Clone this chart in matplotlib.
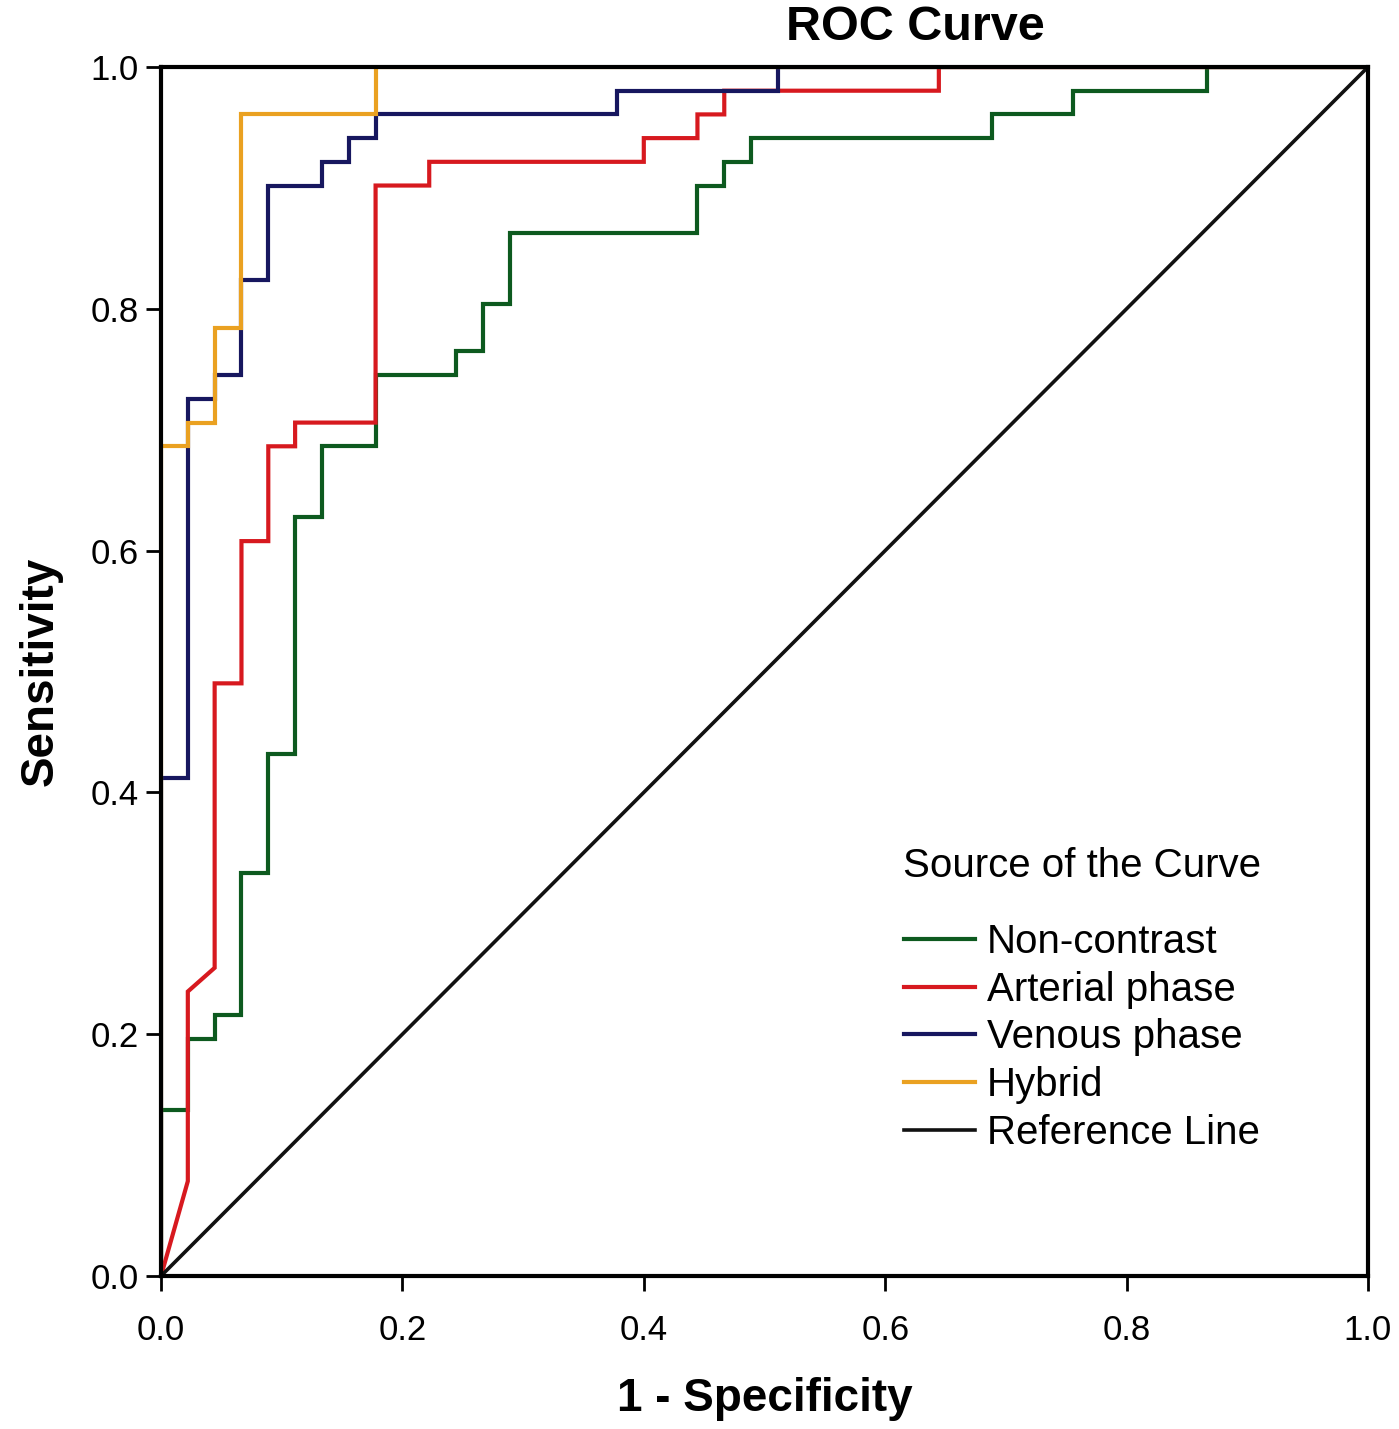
import numpy as np
import matplotlib
matplotlib.use("Agg")
import matplotlib.pyplot as plt

plt.rcParams['font.family'] = ['Liberation Sans', 'DejaVu Sans']

# ROC vertices, in counts of negatives (45) and positives (51)
n_neg = 45
n_pos = 51

noncontrast_fp = [0, 0, 1, 1, 2, 2, 3, 3, 4, 4, 5, 5, 6, 6, 8, 8, 11, 11, 12, 12,
                  13, 13, 20, 20, 21, 21, 22, 22, 31, 31, 34, 34, 39, 39, 45]
noncontrast_tp = [0, 7, 7, 10, 10, 11, 11, 17, 17, 22, 22, 32, 32, 35, 35, 38, 38, 39, 39, 41,
                  41, 44, 44, 46, 46, 47, 47, 48, 48, 49, 49, 50, 50, 51, 51]

arterial_fp = [0, 1, 1, 2, 2, 3, 3, 4, 4, 5, 5, 8, 8, 10, 10, 18, 18, 20, 20, 21,
               21, 29, 29, 45]
arterial_tp = [0, 4, 12, 13, 25, 25, 31, 31, 35, 35, 36, 36, 46, 46, 47, 47, 48, 48, 49, 49,
               50, 50, 51, 51]

venous_fp = [0, 0, 1, 1, 2, 2, 3, 3, 4, 4, 6, 6, 7, 7, 8, 8, 17, 17, 23, 23, 45]
venous_tp = [0, 21, 21, 37, 37, 38, 38, 42, 42, 46, 46, 47, 47, 48, 48, 49, 49, 50, 50, 51, 51]

hybrid_fp = [0, 0, 1, 1, 2, 2, 3, 3, 8, 8, 45]
hybrid_tp = [0, 35, 35, 36, 36, 40, 40, 49, 49, 51, 51]

labels = ['Non-contrast', 'Arterial phase', 'Venous phase', 'Hybrid', 'Reference Line']
colors = ['#0d5a1f', '#d7191f', '#17175f', '#eaa121', '#111111']
ticks = [0.0, 0.2, 0.4, 0.6, 0.8, 1.0]

fig = plt.figure(figsize=(13.99, 14.29), dpi=100)
ax = fig.add_axes([161 / 1399, 1 - 1276 / 1429, 1207 / 1399, 1209 / 1429])

curves = [(noncontrast_fp, noncontrast_tp), (arterial_fp, arterial_tp),
          (venous_fp, venous_tp), (hybrid_fp, hybrid_tp)]
for (fp, tp), lab, col in zip(curves, labels[:4], colors[:4]):
    ax.plot(np.array(fp) / n_neg, np.array(tp) / n_pos, color=col, lw=3.0,
            label=lab, solid_joinstyle='miter')
ax.plot([0, 1], [0, 1], color=colors[4], lw=2.6, label=labels[4])

ax.set_xlim(0, 1)
ax.set_ylim(0, 1)
ax.set_xticks(ticks)
ax.set_yticks(ticks)
ax.set_xticklabels(['%.1f' % t for t in ticks])
ax.set_yticklabels(['%.1f' % t for t in ticks])
ax.tick_params(axis='both', labelsize=25, length=11, width=2, direction='out')
ax.tick_params(axis='x', pad=16)
ax.tick_params(axis='y', pad=5)
for sp in ax.spines.values():
    sp.set_linewidth(3.0)
    sp.set_color('black')

ax.set_xlabel('1 - Specificity', fontsize=33, fontweight='bold', labelpad=22)
ax.set_ylabel('Sensitivity', fontsize=33, fontweight='bold', labelpad=20)
fig.text(915 / 1399, 1 - 27 / 1429, 'ROC Curve', fontsize=35, fontweight='bold',
         ha='center', va='center')

fig.text(903 / 1399, 1 - 866 / 1429, 'Source of the Curve', fontsize=29,
         ha='left', va='center')
ax.legend(loc='upper left', bbox_to_anchor=(884 / 1399, 1 - 903 / 1429),
          bbox_transform=fig.transFigure, frameon=False, fontsize=29,
          handlelength=1.75, handletextpad=0.3, labelspacing=0.24, borderpad=0)

fig.savefig('out.png', dpi=100)
